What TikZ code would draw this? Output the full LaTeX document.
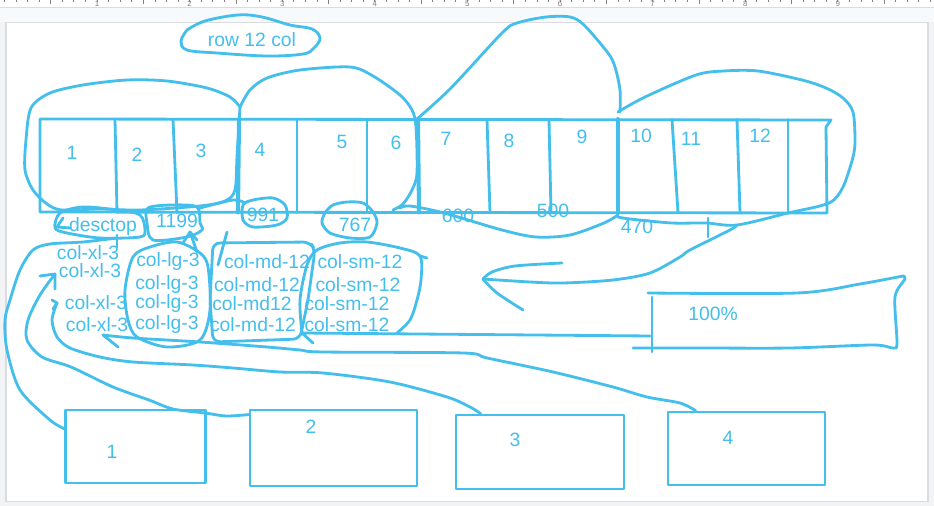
\documentclass[tikz,border=0pt]{standalone}
\usepackage{fontspec}
\setmainfont{Liberation Sans}
\usetikzlibrary{calc}
\definecolor{pen}{RGB}{68,191,236}
\definecolor{outergray}{RGB}{241,243,244}
\definecolor{bandgray}{RGB}{248,249,250}
\definecolor{edgegray}{RGB}{218,220,224}
\definecolor{tickgray}{RGB}{130,130,130}
\begin{document}
\begin{tikzpicture}[x=0.02cm,y=-0.02cm,
  ink/.style={draw=pen,line width=1.6pt,line cap=round,line join=round},
  heavy/.style={ink,line width=2.3pt},
  lbl/.style={text=pen,font=\fontsize{11}{13}\selectfont,inner sep=0pt},
  bx/.style={ink,rectangle,inner sep=0pt},
  tickmark/.style={draw=tickgray,line width=0.4pt}]
\useasboundingbox (0,0) rectangle (934,506);
% ---------- page background ----------
\fill[outergray] (0,0) rectangle (934,506);
\fill[white] (0,0) rectangle (934,7);
\fill[bandgray] (0,7) rectangle (934,22.5);
\draw[edgegray,line width=0.4pt] (0,7) -- (934,7);
\filldraw[fill=white,draw=edgegray,line width=0.6pt] (6,22.5) rectangle (928,501.5);
% ---------- ruler ----------
\foreach \i in {0,...,80}{\draw[tickmark] ({4.4+\i*11.575},0) -- ++(0,2.5);}
\foreach \i in {0,...,9}{\draw[tickmark] ({4.4+46.3+\i*92.6},0) -- ++(0,4);}
\foreach \d in {1,...,9}{\node[text=tickgray,font=\fontsize{4.5}{5}\selectfont,inner sep=0pt,anchor=north] (r\d) at ({4.4+\d*92.6},0.8) {\d};}
% ---------- title blob ----------
\node[lbl] (title) at (252,40) {row 12 col};
\draw[ink] plot[smooth,tension=0.6] coordinates {(187,30) (205,21) (238,15) (262,17) (290,25) (312,29) (320,38) (314,48) (303,54) (267,56) (217,53) (187,50) (181,41) (187,30)};
% ---------- grid ----------
\coordinate (gtl) at (40,119);
\coordinate (gtr) at (831,120);
\coordinate (gbr) at (827,213);
\coordinate (gbl) at (40,212);
\draw[ink] (gbr) -- (gbl) -- (gtl) -- (gtr) -- (826,127) -- (gbr);
\foreach \a/\b in {115/117,173/177,297/297,367/367,487/490,549/551,672/678,737/740,788/788}
  {\draw[ink] (\a,119.5) -- (\b,212.5);}
\foreach \a/\b in {239/238,418/419,618/618}
  {\draw[heavy] (\a,119) -- (\b,212.5);}
\foreach \n/\x/\y in {1/72/153,2/137/155,3/201/151,4/260/150,5/342/142,6/396/143,7/446/139,8/509/141,9/582/137,10/641/136,11/691/139,12/760/136}
  {\node[lbl] (c\n) at (\x,\y) {\n};}
% ---------- blobs over the grid ----------
\draw[ink] plot[smooth] coordinates {(240,107) (230,97) (207,88) (167,81) (127,80) (83,85) (50,93) (31,108) (26,140) (25,170) (33,190) (47,204) (62,210) (100,209) (140,210) (200,206) (225,201) (235,190) (237,157) (240,107)};
\draw[ink] plot[smooth] coordinates {(240,107) (250,90) (267,78) (300,70) (350,67) (373,76) (400,95) (412,110) (416,127) (417,173) (412,190) (403,204) (393,210)};
\draw[ink] plot[smooth] coordinates {(417,119) (451,88) (502,33) (517,23) (546,17) (570,17) (584,25) (608,53) (615,67) (620,90) (620,112)};
\draw[ink] plot[smooth] coordinates {(400,208) (410,206) (444,213) (502,230) (536,237) (570,235) (604,223) (618,215)};
\draw[ink] plot[smooth] coordinates {(618,112) (645,97) (696,75) (724,71) (758,71) (802,80) (826,88) (843,98) (853,112) (855,140) (853,157) (843,187) (829,203) (788,213) (737,225) (706,223) (672,223) (630,219) (618,217)};
\draw[ink] (708,218) -- (708,237);
% ---------- width labels ----------
\node[lbl] (w600) at (458,216) {600};
\node[lbl] (w500) at (553,211) {500};
\node[lbl] (w470) at (637,227) {470};
\node[lbl] (desk) at (103,227) {desctop};
\node[lbl] (w1199) at (177,221) {1199};
\node[lbl] (w991) at (263,215) {991};
\node[lbl] (w767) at (355,225) {767};
\draw[ink] plot[smooth cycle] coordinates {(60,213) (83,207) (117,210) (140,215) (145,230) (140,237) (100,238) (67,233) (55,228)};
\draw[ink] (63,218) -- (57,227) -- (70,228);
\draw[ink] plot[smooth cycle] coordinates {(148,208) (173,205) (197,207) (200,223) (202,230) (187,237) (153,240) (147,223)};
\draw[ink] plot[smooth cycle] coordinates {(243,205) (253,200) (273,198) (285,205) (287,218) (277,225) (253,227) (243,220)};
\draw[ink] plot[smooth] coordinates {(200,208) (233,200) (245,203)};
\draw[ink] plot[smooth cycle] coordinates {(333,205) (347,202) (363,203) (373,212) (377,223) (370,237) (350,238) (330,233) (322,223) (325,213)};
% ---------- column class labels ----------
\foreach \n/\x/\y in {1/88/253,2/90/271,3/96/303,4/97/325}{\node[lbl] (xl\n) at (\x,\y) {col-xl-3};}
\foreach \n/\x/\y in {1/168/262,2/167/285,3/167/304,4/167/325}{\node[lbl] (lg\n) at (\x,\y) {col-lg-3};}
\node[lbl] (md1) at (267,262) {col-md-12};
\node[lbl] (md2) at (257,285) {col-md-12};
\node[lbl] (md3) at (252,304) {col-md12};
\node[lbl] (md4) at (253,325) {col-md-12};
\foreach \n/\x/\y in {1/360/262,2/358/285,3/347/304,4/347/325}{\node[lbl] (sm\n) at (\x,\y) {col-sm-12};}
% lg blob + arrow to 1199
\draw[ink] plot[smooth cycle] coordinates {(150,247) (133,257) (125,290) (128,320) (137,337) (167,347) (200,340) (210,310) (208,267) (200,253) (177,242)};
\draw[ink] (197,252) -- (190,232);
\draw[ink] (183,243) -- (190,232) -- (197,240);
% md box
\draw[ink,rounded corners=4pt] (213,243) -- (310,242) -- (315,250) -- (308,300) -- (300,339) -- (213,342) -- (210,300) -- cycle;
\draw[ink] (227,232) -- (218,265);
% sm blob
\draw[ink] plot[smooth] coordinates {(302,333) (300,300) (307,265) (317,250) (340,243) (367,242) (400,248) (420,256) (421,280) (417,300) (410,320) (397,333)};
\draw[ink] (420,256) -- (427,258);
% xl top line and desktop stem
\draw[ink] (117,235) -- (117,247);
% ---------- 100% box ----------
\node[lbl] (pct) at (713,314) {100\%};
\draw[ink] plot[smooth] coordinates {(648,293) (797,293) (860,284) (903,276)};
\draw[ink] plot[smooth] coordinates {(903,276) (905,279) (895,297) (897,343) (893,348) (873,345) (790,348) (700,348) (633,348)};
\draw[ink] (652,297) -- (652,352);
\coordinate (pctin) at (650,336);
\coordinate (smtip) at (302,333);
\draw[ink] (pctin) -- (smtip) -- (313,343);
% ---------- big returning arrow ----------
\coordinate (bigtip) at (483,279);
\draw[ink] plot[smooth] coordinates {(737,225) (730,230) (690,250) (680,257) (650,273) (613,280) (563,283) (530,282) (bigtip)};
\draw[ink] plot[smooth] coordinates {(bigtip) (497,293) (523,310)};
\draw[ink] plot[smooth] coordinates {(bigtip) (492,272) (515,266) (562,263)};
% ---------- bottom boxes ----------
\node[bx,minimum width=2.8cm,minimum height=1.46cm] (b1) at (135.5,446.5) {};
\node[bx,minimum width=3.34cm,minimum height=1.52cm] (b2) at (333.5,448) {};
\node[bx,minimum width=3.36cm,minimum height=1.48cm] (b3) at (540,452) {};
\node[bx,minimum width=3.14cm,minimum height=1.46cm] (b4) at (746.5,448.5) {};
\node[lbl] (b1l) at (112,452) {1};
\node[lbl] (b2l) at (311,427) {2};
\node[lbl] (b3l) at (515,440) {3};
\node[lbl] (b4l) at (728,438) {4};
% ---------- connectors to bottom boxes ----------
% A: from desktop group to box 1
\draw[ink] plot[smooth] coordinates {(117,238) (83,242) (50,244) (33,250) (20,270) (10,300) (5,320) (7,350) (20,390) (50,420) ($(b1.north west)+(0,20)$)};
% B: xl-3 (row 2) to box 2
\coordinate (xlB) at (55,274);
\draw[ink] plot[smooth] coordinates {(xlB) (40,295) (28,320) (27,340) (42,357) (71,367) (113,387) (149,400) (173,409) (205,413) (226,416) ($(b2.north west)+(0,6)$)};
\draw[ink] (40,276) -- (xlB) -- (55,289);
% C: xl-3 (row 3) to box 3
\coordinate (xlC) at (57,303);
\draw[ink] plot[smooth] coordinates {(xlC) (52,320) (57,337) (70,348) (100,357) (133,362) (193,365) (233,368) (280,372) (323,373) (390,382) (447,397) (470,407) ($(b3.north west)+(26,0)$)};
\draw[ink] (52,300) -- (xlC) -- (53,309);
% D: xl-3 (row 4) to box 4
\coordinate (xlD) at (103,335);
\draw[ink] plot[smooth] coordinates {(xlD) (133,338) (200,342) (267,347) (300,350) (323,352) (463,353) (487,358) (553,372) (613,387) (647,397) (680,403) ($(b4.north west)+(29,0)$)};
\draw[ink] (xlD) -- (118,347);
\end{tikzpicture}
\end{document}
